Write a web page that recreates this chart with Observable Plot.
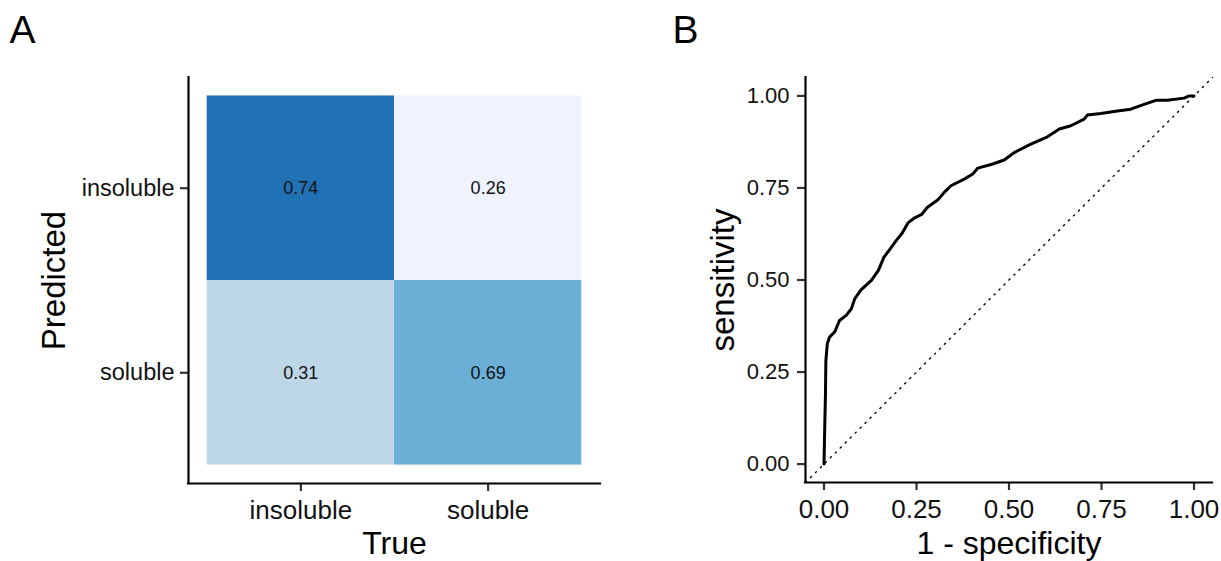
<!DOCTYPE html>
<html><head><meta charset="utf-8">
<script src="https://cdn.jsdelivr.net/npm/d3@7"></script>
<script src="https://cdn.jsdelivr.net/npm/@observablehq/plot@0.6"></script>
<style>
html,body{margin:0;padding:0;background:#fff;}
#wrap{display:flex;width:1221px;height:561px;overflow:hidden;}
#wrap svg{display:block;}
</style></head><body><div id="wrap"></div>
<script>
// ---- Panel A data: confusion matrix ----
const classes = ["insoluble", "soluble"];
const cellTrue = ["insoluble", "soluble", "insoluble", "soluble"];
const cellPredicted = ["insoluble", "insoluble", "soluble", "soluble"];
const cellValues = [0.74, 0.26, 0.31, 0.69];

// ---- Panel B data: ROC curve ----
const rocTicks = [0, 0.25, 0.5, 0.75, 1];
const fpr = [0, 0.002, 0.004, 0.005, 0.009, 0.015, 0.029, 0.042, 0.06, 0.074, 0.083, 0.10, 0.128, 0.147, 0.162, 0.177, 0.195, 0.211, 0.227, 0.245, 0.264, 0.279, 0.308, 0.325, 0.343, 0.379, 0.402, 0.416, 0.456, 0.487, 0.514, 0.559, 0.604, 0.636, 0.667, 0.703, 0.712, 0.748, 0.793, 0.829, 0.865, 0.897, 0.928, 0.973, 0.987, 1.0];
const tpr = [0, 0.10, 0.19, 0.28, 0.327, 0.345, 0.359, 0.39, 0.404, 0.422, 0.449, 0.473, 0.499, 0.526, 0.562, 0.582, 0.607, 0.627, 0.655, 0.669, 0.678, 0.697, 0.718, 0.738, 0.756, 0.774, 0.788, 0.804, 0.815, 0.826, 0.846, 0.869, 0.889, 0.91, 0.919, 0.937, 0.948, 0.952, 0.959, 0.964, 0.977, 0.988, 0.988, 0.994, 1.0, 1.0];

const FONT = "'Liberation Sans', Arial, Helvetica, sans-serif";
const baseStyle = {fontFamily: FONT, background: "#fff", color: "#111", overflow: "visible"};
const axisLine = {stroke: "#000", strokeWidth: 2.2, strokeLinecap: "square"};

const cells = cellValues.map((v, i) => ({t: cellTrue[i], p: cellPredicted[i], v}));
const xPos = t => classes.indexOf(t) + 1;
const yPos = p => classes.length - classes.indexOf(p);
const catDomain = [0.4, classes.length + 0.6];

const panelA = Plot.plot({
  width: 610, height: 561,
  marginLeft: 188, marginRight: 10, marginTop: 77, marginBottom: 78,
  style: baseStyle,
  x: {domain: catDomain, axis: null},
  y: {domain: catDomain, axis: null},
  color: {type: "ordinal", domain: [...cellValues].sort(d3.ascending), range: d3.schemeBlues[4]},
  marks: [
    Plot.rect(cells, {
      x1: d => xPos(d.t) - 0.5, x2: d => xPos(d.t) + 0.5,
      y1: d => yPos(d.p) - 0.5, y2: d => yPos(d.p) + 0.5,
      fill: "v"
    }),
    Plot.text(cells, {x: d => xPos(d.t), y: d => yPos(d.p), text: d => d3.format(".2f")(d.v), fontSize: 18, fill: "#111"}),
    Plot.axisX({ticks: classes.map(xPos), tickFormat: v => classes[Math.round(v) - 1], tickSize: 8, tickPadding: 9, fontSize: 26, stroke: "#333", strokeWidth: 2.2, fill: "#111", label: null}),
    Plot.axisY({ticks: classes.map(yPos), tickFormat: v => classes[classes.length - Math.round(v)], tickSize: 8, tickPadding: 6, fontSize: 23.5, stroke: "#333", strokeWidth: 2.2, fill: "#111", label: null}),
    Plot.ruleX([catDomain[0]], axisLine),
    Plot.ruleY([catDomain[0]], axisLine),
    Plot.text(["True"], {text: d => d, frameAnchor: "bottom", dy: 60, lineAnchor: "middle", textAnchor: "middle", fontSize: 32, fill: "#000"}),
    Plot.text(["Predicted"], {text: d => d, frameAnchor: "left", dx: -134, rotate: -90, textAnchor: "middle", lineAnchor: "middle", fontSize: 33, fill: "#000"}),
    Plot.text(["A"], {text: d => d, frameAnchor: "top-left", dx: -179, dy: -46.5, textAnchor: "start", lineAnchor: "middle", fontSize: 39, fill: "#000"})
  ]
});

const rocDomain = [-0.05, 1.05];
const rocPoints = fpr.map((x, i) => ({x, y: tpr[i]}));

const panelB = Plot.plot({
  width: 611, height: 561,
  marginLeft: 195, marginRight: 9, marginTop: 77, marginBottom: 79,
  style: baseStyle,
  x: {domain: rocDomain, axis: null},
  y: {domain: rocDomain, axis: null},
  marks: [
    Plot.line(rocDomain, {x: d => d, y: d => d, stroke: "#000", strokeWidth: 1.4, strokeDasharray: "1.4 5.6"}),
    Plot.line(rocPoints, {x: "x", y: "y", stroke: "#000", strokeWidth: 3, strokeLinejoin: "round", strokeLinecap: "round"}),
    Plot.axisX({ticks: rocTicks, tickFormat: d3.format(".2f"), tickSize: 8, tickPadding: 9, fontSize: 26, stroke: "#333", strokeWidth: 2.2, fill: "#111", label: null}),
    Plot.axisY({ticks: rocTicks, tickFormat: d3.format(".2f"), tickSize: 8, tickPadding: 8, fontSize: 22, stroke: "#333", strokeWidth: 2.2, fill: "#111", label: null}),
    Plot.ruleX([rocDomain[0]], axisLine),
    Plot.ruleY([rocDomain[0]], axisLine),
    Plot.text(["1 - specificity"], {text: d => d, frameAnchor: "bottom", dy: 61, lineAnchor: "middle", textAnchor: "middle", fontSize: 32, fill: "#000"}),
    Plot.text(["sensitivity"], {text: d => d, frameAnchor: "left", dx: -82, rotate: -90, textAnchor: "middle", lineAnchor: "middle", fontSize: 33, fill: "#000"}),
    Plot.text(["B"], {text: d => d, frameAnchor: "top-left", dx: -133, dy: -46.5, textAnchor: "start", lineAnchor: "middle", fontSize: 39, fill: "#000"})
  ]
});

const wrap = document.getElementById("wrap");
wrap.appendChild(panelA);
wrap.appendChild(panelB);
</script></body></html>
